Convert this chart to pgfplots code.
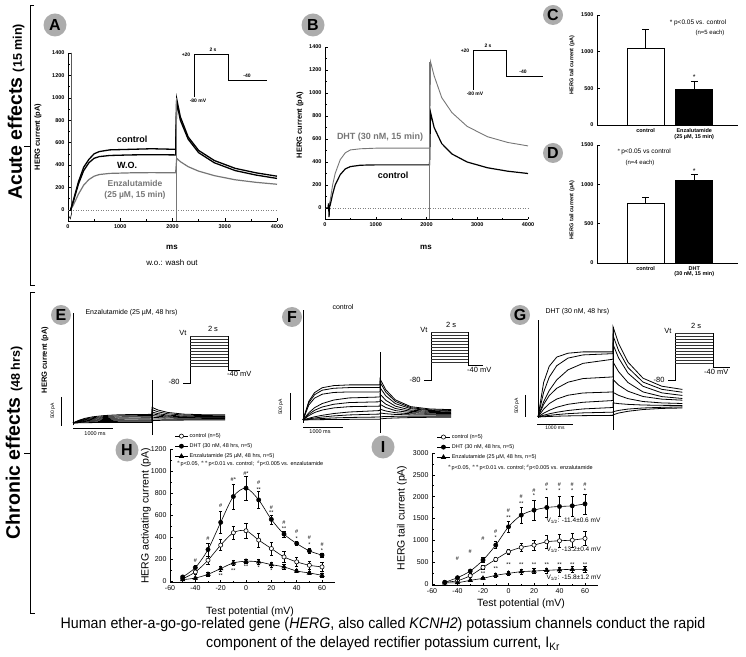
\documentclass[border=0pt]{standalone}
\usepackage{pgfplots}
\pgfplotsset{compat=1.18}
\usepackage{fontspec}
\setmainfont{Liberation Sans}
\newfontfamily\capfont[FakeStretch=0.93]{Liberation Sans}
\definecolor{cgray}{RGB}{172,172,172}
\definecolor{tgray}{RGB}{118,118,118}
\newcommand{\fs}[1]{\fontsize{#1}{#1}\selectfont}
\tikzset{sig/.style={font=\fs{5.5}, inner sep=0pt}}
\pgfplotsset{
  every axis/.append style={/pgf/number format/assume math mode=true,/pgf/number format/1000 sep={},scale only axis,clip=false,anchor=south west},
  ephys/.style={axis lines=left, axis line style={-,line width=0.6pt}, tick align=inside,
    tick style={black,line width=0.5pt}, major tick length=2.5pt, minor tick length=1.5pt,
    xmin=0,xmax=4000,ymin=-100,ymax=1400, xtick={0,1000,2000,3000,4000}, ytick={0,200,...,1400},
    minor x tick num=1, minor y tick num=1, tick label style={font=\fs{5.5}\bfseries}, scaled ticks=false},
  barp/.style={axis lines=left, axis line style={-,line width=0.7pt}, tick align=inside, tick style={black,line width=0.6pt}, major tick length=2.5pt,
    xmin=0,xmax=2.9,ymin=0,ymax=1500, ytick={0,500,1000,1500}, xtick={1,2}, major x tick style={draw=none},
    tick label style={font=\fs{5.5}\bfseries}, xticklabel style={align=center}, scaled ticks=false},
  hbar/.style={ybar, bar width=37pt, draw=black, line width=0.8pt, error bars/.cd, y dir=plus, y explicit, error bar style={line width=0.8pt,black}, error mark options={rotate=90,mark size=3.5pt,line width=0.8pt,black}},
  trace/.style={hide axis, xmin=0},
  tr/.style={black, line width=0.8pt},
  ivp/.style={axis lines=left, axis line style={-,line width=0.6pt}, tick align=inside, tick style={black,line width=0.5pt}, major tick length=2.5pt, minor tick length=1.5pt,
    xmin=-60,xmax=70, xtick={-60,-40,...,60}, minor x tick num=1, minor y tick num=1, tick label style={font=\fs{7}}, scaled ticks=false,
    legend cell align=left, legend image code/.code={\draw[mark repeat=2,mark phase=2,##1] plot coordinates {(0pt,0pt) (6pt,0pt) (12pt,0pt)};},
    legend style={draw=none, fill=none, font=\fs{5.5}, row sep=0.6pt, inner sep=0pt, anchor=north west}},
  pc/.style={black,line width=0.6pt,smooth,mark=*,mark size=2.1pt,mark options={fill=white,solid,line width=0.6pt}, error bars/.cd, y dir=both, y explicit, error bar style={line width=0.5pt}, error mark options={rotate=90,mark size=1.6pt,line width=0.5pt}},
  pd/.style={black,line width=0.6pt,smooth,mark=*,mark size=2.1pt,mark options={fill=black,solid}, error bars/.cd, y dir=both, y explicit, error bar style={line width=0.5pt}, error mark options={rotate=90,mark size=1.6pt,line width=0.5pt}},
  pe/.style={black,line width=0.6pt,smooth,mark=triangle*,mark size=2.5pt,mark options={fill=black,solid}, error bars/.cd, y dir=both, y explicit, error bar style={line width=0.5pt}, error mark options={rotate=90,mark size=1.6pt,line width=0.5pt}},
}
\begin{document}
\begin{tikzpicture}
\useasboundingbox (0,0) rectangle (746pt,656pt);

% ---------------- Panel A
\begin{axis}[ephys, at={(68pt,435pt)}, width=209pt, height=168pt]
\addplot[gray, dotted, line width=0.5pt] coordinates {(0,0) (4000,0)};
\addplot[tgray, line width=1.2pt] coordinates {(50,0) (100,40) (200,140) (300,220) (400,270) (500,300) (600,315) (800,325) (1200,330) (1600,332) (2060,330) (2080,460) (2150,430) (2300,385) (2500,345) (2800,305) (3200,268) (3600,245) (4000,228)};
\addplot[black, line width=1.3pt] coordinates {(50,0) (100,70) (200,230) (300,350) (400,420) (500,460) (600,475) (800,485) (1200,490) (1600,492) (2060,490) (2080,960) (2150,800) (2300,630) (2500,510) (2800,420) (3200,350) (3600,310) (4000,280)};
\addplot[black, line width=1.3pt] coordinates {(50,0) (100,80) (200,250) (300,380) (400,450) (500,500) (600,520) (800,535) (1200,540) (1600,545) (2060,540) (2080,990) (2150,830) (2300,650) (2500,530) (2800,440) (3200,370) (3600,330) (4000,300)};
\addplot[black, line width=0.6pt] coordinates {(20,-60) (45,-80) (70,-30) (70,1400)};
\addplot[tgray, line width=0.7pt] coordinates {(2065,-100) (2065,1000)};
\end{axis}

% ---------------- Panel B
\begin{axis}[ephys, at={(325pt,436.5pt)}, width=203pt, height=172.5pt]
\addplot[gray, dotted, line width=0.5pt] coordinates {(0,0) (4000,0)};
\addplot[tgray, line width=0.9pt] coordinates {(60,0) (100,60) (150,200) (200,300) (300,420) (400,480) (500,505) (700,515) (1000,520) (2060,520) (2080,1270) (2150,1150) (2300,960) (2500,830) (2800,710) (3200,620) (3600,570) (4000,540)};
\addplot[black, line width=1.2pt] coordinates {(0,0) (60,0) (70,40) (80,-80) (90,20) (100,20) (150,120) (200,200) (300,290) (400,340) (500,360) (700,372) (1000,375) (2060,375) (2080,830) (2150,700) (2300,560) (2500,470) (2800,400) (3200,350) (3600,320) (4000,300)};
\addplot[tgray, line width=0.7pt] coordinates {(2065,-100) (2065,1270)};
\end{axis}

% ---------------- Panel C
\begin{axis}[barp, at={(597pt,531pt)}, width=141pt, height=110pt,
  xticklabels={control,{Enzalutamide\\(25 µM, 15 min)}}]
\addplot[fill=white, hbar] coordinates {(1,1050) +- (0,250)};
\addplot[fill=black, hbar] coordinates {(2,490) +- (0,110)};
\node[font=\fs{7}] at (axis cs:2,650) {*};
\end{axis}

% ---------------- Panel D
\begin{axis}[barp, at={(597pt,393pt)}, width=141pt, height=118pt,
  xticklabels={control,{DHT\\(30 nM, 15 min)}}]
\addplot[fill=white, hbar] coordinates {(1,760) +- (0,80)};
\addplot[fill=black, hbar] coordinates {(2,1050) +- (0,80)};
\node[font=\fs{7}] at (axis cs:2,1170) {*};
\end{axis}

% ---------------- Panel E
\begin{axis}[trace, at={(73pt,215.6pt)}, width=154pt, height=127.6pt, xmax=3900, ymin=-300, ymax=1900]
\addplot[black,line width=0.6pt] coordinates {(0,-40) (0,1900)};
\addplot[black,line width=0.5pt] coordinates {(2000,-207) (2000,741)};
\addplot[tr] coordinates {(0,0) (150,47) (300,80) (500,107) (800,129) (1200,143) (2000,149) (2001,270) (2150,225) (2400,182) (2800,153) (3300,143) (3850,141)};
\addplot[tr] coordinates {(0,0) (150,40) (300,69) (500,92) (800,112) (1200,124) (2000,129) (2001,230) (2150,193) (2400,159) (2800,136) (3300,128) (3850,125)};
\addplot[tr] coordinates {(0,0) (150,34) (300,58) (500,78) (800,95) (1200,105) (2000,109) (2001,190) (2150,162) (2400,136) (2800,118) (3300,112) (3850,110)};
\addplot[tr] coordinates {(0,0) (150,28) (300,48) (500,64) (800,77) (1200,86) (2000,89) (2001,160) (2150,139) (2400,119) (2800,106) (3300,101) (3850,100)};
\addplot[tr] coordinates {(0,0) (150,22) (300,37) (500,50) (800,60) (1200,67) (2000,69) (2001,130) (2150,116) (2400,103) (2800,94) (3300,91) (3850,90)};
\addplot[tr] coordinates {(0,0) (150,15) (300,27) (500,36) (800,43) (1200,48) (2000,50) (2001,100) (2150,93) (2400,86) (2800,82) (3300,80) (3850,80)};
\addplot[tr] coordinates {(0,0) (150,9) (300,16) (500,21) (800,26) (1200,29) (2000,30) (2001,70) (2150,68) (2400,66) (2800,65) (3300,65) (3850,65)};
\addplot[tr] coordinates {(0,0) (150,3) (300,5) (500,7) (800,9) (1200,10) (2000,10) (2001,40) (2150,45) (2400,48) (2800,50) (3300,52) (3850,52)};
\end{axis}

% ---------------- Panel F
\begin{axis}[trace, at={(303pt,219.8pt)}, width=151pt, height=126.9pt, xmax=3922, ymin=-300, ymax=2050]
\addplot[black,line width=0.6pt] coordinates {(0,-50) (0,2037)};
\addplot[black,line width=0.5pt] coordinates {(2000,-240) (2000,1260)};
\addplot[tr] coordinates {(0,0) (150,345) (300,507) (500,598) (800,637) (1200,650) (2000,650) (2001,760) (2150,561) (2400,372) (2800,247) (3300,204) (3850,192)};
\addplot[tr] coordinates {(0,0) (150,318) (300,468) (500,552) (800,588) (1200,600) (2000,600) (2001,700) (2150,516) (2400,343) (2800,228) (3300,188) (3850,177)};
\addplot[tr] coordinates {(0,0) (150,276) (300,406) (500,478) (800,510) (1200,520) (2000,520) (2001,600) (2150,448) (2400,304) (2800,209) (3300,175) (3850,167)};
\addplot[tr] coordinates {(0,0) (150,133) (300,228) (500,305) (800,370) (1200,409) (2000,426) (2001,480) (2150,365) (2400,256) (2800,183) (3300,158) (3850,151)};
\addplot[tr] coordinates {(0,0) (150,105) (300,180) (500,241) (800,292) (1200,323) (2000,337) (2001,380) (2150,294) (2400,213) (2800,160) (3300,141) (3850,136)};
\addplot[tr] coordinates {(0,0) (150,81) (300,138) (500,185) (800,224) (1200,247) (2000,257) (2001,290) (2150,231) (2400,174) (2800,137) (3300,124) (3850,121)};
\addplot[tr] coordinates {(0,0) (150,32) (300,59) (500,87) (800,120) (1200,148) (2000,175) (2001,200) (2150,167) (2400,135) (2800,115) (3300,107) (3850,105)};
\addplot[tr] coordinates {(0,0) (150,20) (300,37) (500,55) (800,76) (1200,94) (2000,110) (2001,130) (2150,116) (2400,103) (2800,94) (3300,91) (3850,90)};
\addplot[tr] coordinates {(0,0) (150,10) (300,19) (500,28) (800,38) (1200,47) (2000,55) (2001,60) (2150,65) (2400,68) (2800,70) (3300,70) (3850,70)};
\addplot[tr] coordinates {(0,0) (150,3) (300,5) (500,7) (800,9) (1200,12) (2000,14) (2001,20) (2150,30) (2400,38) (2800,45) (3300,50) (3850,52)};
\end{axis}

% ---------------- Panel G
\begin{axis}[trace, at={(538pt,225.8pt)}, width=145pt, height=110pt, xmax=3867, ymin=-300, ymax=2200]
\addplot[black,line width=0.6pt] coordinates {(0,-20) (0,2200)};
\addplot[black,line width=0.5pt] coordinates {(2000,-295) (2000,2045)};
\addplot[tr] coordinates {(0,0) (150,784) (300,1154) (500,1362) (800,1450) (1200,1480) (2000,1480) (2001,2050) (2150,1670) (2400,1247) (2800,882) (3300,700) (3850,627)};
\addplot[tr] coordinates {(0,0) (150,562) (300,907) (500,1166) (800,1339) (1200,1411) (2000,1440) (2001,1850) (2150,1507) (2400,1124) (2800,794) (3300,629) (3850,563)};
\addplot[tr] coordinates {(0,0) (150,348) (300,603) (500,844) (800,1072) (1200,1219) (2000,1313) (2001,1650) (2150,1341) (2400,996) (2800,698) (3300,549) (3850,490)};
\addplot[tr] coordinates {(0,0) (150,285) (300,488) (500,653) (800,791) (1200,874) (2000,911) (2001,1250) (2150,1029) (2400,783) (2800,570) (3300,464) (3850,421)};
\addplot[tr] coordinates {(0,0) (150,178) (300,305) (500,408) (800,495) (1200,546) (2000,569) (2001,850) (2150,725) (2400,586) (2800,466) (3300,406) (3850,382)};
\addplot[tr] coordinates {(0,0) (150,86) (300,152) (500,222) (800,289) (1200,335) (2000,374) (2001,560) (2150,492) (2400,417) (2800,352) (3300,320) (3850,307)};
\addplot[tr] coordinates {(0,0) (150,40) (300,73) (500,108) (800,148) (1200,183) (2000,216) (2001,320) (2150,304) (2400,287) (2800,272) (3300,265) (3850,262)};
\addplot[tr] coordinates {(0,0) (150,20) (300,37) (500,55) (800,76) (1200,94) (2000,110) (2001,120) (2150,150) (2400,180) (2800,205) (3300,220) (3850,230)};
\addplot[tr] coordinates {(0,0) (150,7) (300,12) (500,18) (800,25) (1200,31) (2000,37) (2001,50) (2150,90) (2400,130) (2800,170) (3300,195) (3850,205)};
\end{axis}

% ---------------- Panel H
\begin{axis}[ivp, at={(170pt,73.9pt)}, width=164.7pt, height=133.1pt, ymin=-10, ymax=1200, ytick={0,200,...,1200},
  legend style={at={(axis description cs:0.03,1.134)}}]
\addplot[pc] coordinates {(-50,20)+-(0,8) (-40,82)+-(0,20) (-30,189)+-(0,40) (-20,326)+-(0,50) (-10,439)+-(0,60) (0,457)+-(0,70) (10,372)+-(0,65) (20,295)+-(0,60) (30,219)+-(0,50) (40,174)+-(0,40) (50,143)+-(0,40) (60,128)+-(0,40)};
\addlegendentry{control (n=5)}
\addplot[pd] coordinates {(-50,37)+-(0,10) (-40,122)+-(0,25) (-30,286)+-(0,60) (-20,533)+-(0,100) (-10,768)+-(0,115) (0,844)+-(0,110) (10,737)+-(0,75) (20,560)+-(0,40) (30,426)+-(0,25) (40,341)+-(0,20) (50,274)+-(0,20) (60,235)+-(0,20)};
\addlegendentry{DHT (30 nM, 48 hrs, n=5)}
\addplot[pe] coordinates {(-50,12)+-(0,5) (-40,27)+-(0,10) (-30,61)+-(0,15) (-20,113)+-(0,20) (-10,164)+-(0,25) (0,180)+-(0,20) (10,174)+-(0,25) (20,149)+-(0,25) (30,128)+-(0,20) (40,91)+-(0,15) (50,73)+-(0,15) (60,52)+-(0,15)};
\addlegendentry{Enzalutamide (25 µM, 48 hrs, n=5)}
\node[sig] at (axis cs:-40,189) {\#};
\node[sig] at (axis cs:-30,387) {\#};
\node[sig] at (axis cs:-20,682) {\#};
\node[sig] at (axis cs:-10,920) {\#*};
\node[sig] at (axis cs:0,980) {\#*};
\node[sig] at (axis cs:10,895) {\#};
\node[sig] at (axis cs:10,835) {**};
\node[sig] at (axis cs:20,670) {\#};
\node[sig] at (axis cs:20,621) {**};
\node[sig] at (axis cs:30,530) {\#};
\node[sig] at (axis cs:30,478) {**};
\node[sig] at (axis cs:40,448) {\#};
\node[sig] at (axis cs:40,387) {*};
\node[sig] at (axis cs:50,396) {\#};
\node[sig] at (axis cs:50,332) {*};
\node[sig] at (axis cs:60,335) {\#};
\node[sig] at (axis cs:60,280) {*};
\node[sig] at (axis cs:-20,45) {**};
\node[sig] at (axis cs:-10,92) {**};
\node[sig] at (axis cs:0,128) {**};
\node[sig] at (axis cs:10,120) {*};
\node[sig] at (axis cs:20,92) {*};
\end{axis}

% ---------------- Panel I
\begin{axis}[ivp, at={(432pt,70.7pt)}, width=165.75pt, height=132.3pt, ymin=-30, ymax=3000, ytick={0,500,...,3000},
  legend style={at={(axis description cs:0.03,1.158)}}]
\addplot[pc] coordinates {(-50,38)+-(0,10) (-40,76)+-(0,15) (-30,190)+-(0,25) (-20,380)+-(0,40) (-10,563)+-(0,50) (0,739)+-(0,60) (10,838)+-(0,90) (20,891)+-(0,120) (30,967)+-(0,140) (40,990)+-(0,150) (50,1005)+-(0,160) (60,1043)+-(0,160)};
\addlegendentry{control (n=5)}
\addplot[pd] coordinates {(-50,38)+-(0,10) (-40,145)+-(0,20) (-30,297)+-(0,40) (-20,548)+-(0,60) (-10,891)+-(0,80) (0,1310)+-(0,120) (10,1577)+-(0,180) (20,1691)+-(0,220) (30,1752)+-(0,230) (40,1775)+-(0,230) (50,1790)+-(0,230) (60,1835)+-(0,230)};
\addlegendentry{DHT (30 nM, 48 hrs, n=5)}
\addplot[pe] coordinates {(-50,25)+-(0,10) (-40,30)+-(0,10) (-30,84)+-(0,20) (-20,130)+-(0,30) (-10,198)+-(0,40) (0,244)+-(0,50) (10,282)+-(0,60) (20,297)+-(0,60) (30,312)+-(0,60) (40,327)+-(0,60) (50,335)+-(0,60) (60,335)+-(0,60)};
\addlegendentry{Enzalutamide (25 µM, 48 hrs, n=5)}
\node[sig] at (axis cs:-40,586) {\#};
\node[sig] at (axis cs:-30,739) {\#};
\node[sig] at (axis cs:-20,1043) {\#};
\node[sig] at (axis cs:-10,1190) {\#};
\node[sig] at (axis cs:-10,1060) {*};
\node[sig] at (axis cs:0,1670) {\#};
\node[sig] at (axis cs:0,1520) {**};
\node[sig] at (axis cs:10,2010) {\#};
\node[sig] at (axis cs:10,1850) {**};
\node[sig] at (axis cs:20,2140) {\#};
\node[sig] at (axis cs:20,2025) {*};
\node[sig] at (axis cs:30,2275) {\#};
\node[sig] at (axis cs:30,2140) {*};
\node[sig] at (axis cs:40,2275) {\#};
\node[sig] at (axis cs:40,2140) {*};
\node[sig] at (axis cs:50,2275) {\#};
\node[sig] at (axis cs:50,2140) {*};
\node[sig] at (axis cs:60,2275) {\#};
\node[sig] at (axis cs:60,2140) {*};
\node[sig] at (axis cs:-20,244) {**};
\node[sig] at (axis cs:-10,358) {**};
\node[sig] at (axis cs:0,434) {**};
\node[sig] at (axis cs:10,434) {**};
\node[sig] at (axis cs:20,434) {**};
\node[sig] at (axis cs:30,434) {**};
\node[sig] at (axis cs:40,434) {**};
\node[sig] at (axis cs:50,434) {**};
\node[sig] at (axis cs:60,434) {**};
\end{axis}

% ---------------- annotations in pixel coordinates
\begin{scope}[x=1pt,y=-1pt,shift={(0pt,656pt)}]
% brackets and side labels
\draw[line width=0.7pt] (34,5)--(30,5)--(30,285)--(35,285) (30,146)--(24,146);
\draw[line width=0.7pt] (35,292)--(30,292)--(30,613)--(35,613) (30,453)--(24,453);
\node[rotate=90,font=\bfseries] at (16,112) {\fs{19.5}Acute effects \fs{12.5}(15 min)};
\node[rotate=90,font=\bfseries] at (14,443) {\fs{19.5}Chronic effects \fs{12.5}(48 hrs)};
% panel letters
\foreach \l/\x/\y/\r in {A/55/25/11.5,B/313/25/11.5,C/553/15/10,D/553/153/10,E/61/315/10,F/292/317/10,G/520/315/10,H/127/450/11.5,I/383/447/11.5}{
  \fill[cgray] (\x,\y) circle (\r pt);
  \node[font=\fs{16}\bfseries] at (\x,\y) {\l};
}
% Panel A texts
\node[rotate=90,font=\fs{7.5}\bfseries] at (38,137) {HERG current (pA)};
\node[font=\fs{9}\bfseries] at (132,139) {control};
\node[font=\fs{9}\bfseries] at (127,165) {W.O.};
\node[font=\fs{8.5}\bfseries,text=tgray] at (135,183) {Enzalutamide};
\node[font=\fs{8.5}\bfseries,text=tgray] at (135,195) {(25 µM, 15 min)};
\node[font=\fs{8}\bfseries] at (172,247) {ms};
\node[font=\fs{8}] at (172,263) {w.o.: wash out};
\draw[line width=0.7pt] (194,97)--(194,54)--(228,54)--(228,80)--(267,80);
\node[font=\fs{5}\bfseries] at (186,55) {+20};
\node[font=\fs{5}\bfseries] at (213,50) {2 s};
\node[font=\fs{5}\bfseries] at (247,76) {-40};
\node[font=\fs{5}\bfseries] at (198,101) {-80 mV};
% Panel B texts
\node[rotate=90,font=\fs{7.5}\bfseries] at (300,125) {HERG current (pA)};
\node[font=\fs{9}\bfseries,text=tgray] at (380,137) {DHT (30 nM, 15 min)};
\node[font=\fs{9}\bfseries] at (393,175) {control};
\node[font=\fs{8}\bfseries] at (426,247) {ms};
\draw[line width=0.7pt] (473,90)--(473,50)--(506,50)--(506,76)--(543,76);
\node[font=\fs{5}\bfseries] at (465,51) {+20};
\node[font=\fs{5}\bfseries] at (488,46) {2 s};
\node[font=\fs{5}\bfseries] at (523,72) {-40};
\node[font=\fs{5}\bfseries] at (475,94) {-80 mV};
% Panel C/D texts
\node[rotate=90,font=\fs{5.5}\bfseries] at (572,65) {HERG tail current (pA)};
\node[rotate=90,font=\fs{5.5}\bfseries] at (572,210) {HERG tail current (pA)};
\node[font=\fs{6.5}] at (698,23) {* p<0.05 vs. control};
\node[font=\fs{6}] at (710,33) {(n=5 each)};
\node[font=\fs{6.5}] at (644,152) {$^*$p<0.05 vs control};
\node[font=\fs{6}] at (640,163) {(n=4 each)};
% Panel E/F/G texts
\node[rotate=90,font=\fs{7.5}\bfseries] at (45,360) {HERG current (pA)};
\node[font=\fs{7},anchor=west] at (82,313) {Enzalutamide (25 µM, 48 hrs)};
\node[font=\fs{7}] at (343,307) {control};
\node[font=\fs{7},anchor=west] at (542,312) {DHT (30 nM, 48 hrs)};
% scale bars
\draw[line width=0.8pt] (61,397)--(61,426) (73,428)--(113,428);
\node[rotate=90,font=\fs{5}] at (53,411) {500 pA};
\node[font=\fs{5.5}] at (95,434) {1000 ms};
\draw[line width=0.8pt] (290,393)--(290,420) (303,427)--(343,427);
\node[rotate=90,font=\fs{5}] at (281,407) {500 pA};
\node[font=\fs{5.5}] at (320,432) {1000 ms};
\draw[line width=0.8pt] (525,395)--(525,417) (537,424)--(573,424);
\node[rotate=90,font=\fs{5}] at (517,406) {500 pA};
\node[font=\fs{5}] at (555,428) {1000 ms};
% voltage protocols E/F/G
\draw[line width=0.6pt] (183,383)--(190,383)--(190,336)--(228,336)--(228,370)--(240,370);
\foreach \k in {0,...,10}{\draw[line width=0.7pt,black!80] (190,336+3*\k)--(228,336+3*\k);}
\node[font=\fs{7.5},anchor=east] at (190,333) {Vt};
\node[font=\fs{7.5}] at (213,329) {2 s};
\node[font=\fs{7.5},anchor=east] at (183,382) {-80};
\node[font=\fs{7.5},anchor=north west,inner sep=1pt] at (226,370) {-40 mV};
\draw[line width=0.6pt] (424,380)--(431,380)--(431,332)--(468,332)--(468,365)--(483,365);
\foreach \k in {0,...,10}{\draw[line width=0.7pt,black!80] (431,332+3*\k)--(468,332+3*\k);}
\node[font=\fs{7.5},anchor=east] at (431,330) {Vt};
\node[font=\fs{7.5}] at (451,325) {2 s};
\node[font=\fs{7.5},anchor=east] at (424,380) {-80};
\node[font=\fs{7.5},anchor=north west,inner sep=1pt] at (466,366) {-40 mV};
\draw[line width=0.6pt] (668,380)--(675,380)--(675,333)--(713,333)--(713,367)--(730,367);
\foreach \k in {0,...,10}{\draw[line width=0.7pt,black!80] (675,333+3*\k)--(713,333+3*\k);}
\node[font=\fs{7.5},anchor=east] at (675,331) {Vt};
\node[font=\fs{7.5}] at (696,326) {2 s};
\node[font=\fs{7.5},anchor=east] at (668,380) {-80};
\node[font=\fs{7.5},anchor=north west,inner sep=1pt] at (703,368) {-40 mV};
% Panel H/I labels
\node[rotate=90,font=\fs{10.5}] at (146,516) {HERG activating current (pA)};
\node[font=\fs{10.5}] at (250,612) {Test potential (mV)};
\node[font=\fs{5.5},anchor=west] at (173,464) {$^*$p<0.05, $^{**}$p<0.01 vs. control;\ \ $^\#$p<0.005 vs. enzalutamide};
\node[rotate=90,font=\fs{10.5}] at (402,518) {HERG tail current (pA)};
\node[font=\fs{10.5}] at (521,604) {Test potential (mV)};
\node[font=\fs{5.5},anchor=west] at (444,468) {$^*$p<0.05, $^{**}$p<0.01 vs. control; $^\#$p<0.005 vs. enzalutamide};
\node[font=\fs{6.5},anchor=west] at (543,521) {V\textsubscript{1/2}: -11.4±0.6 mV};
\node[font=\fs{6.5},anchor=west] at (543,550) {V\textsubscript{1/2}: -13.2±0.4 mV};
\node[font=\fs{6.5},anchor=west] at (543,578) {V\textsubscript{1/2}: -15.8±1.2 mV};
% caption
\node[font=\capfont\fs{15.3}] at (383,625) {Human ether-a-go-go-related gene (\textit{HERG}, also called \textit{KCNH2}) potassium channels conduct the rapid};
\node[font=\capfont\fs{15.3}] at (383,644) {component of the delayed rectifier potassium current, I\textsubscript{Kr}};
\end{scope}
\end{tikzpicture}
\end{document}
